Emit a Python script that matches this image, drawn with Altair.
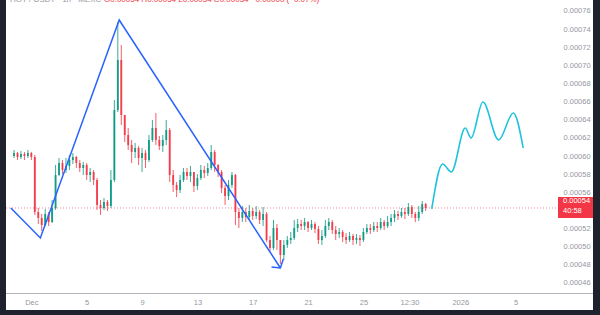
import altair as alt
import pandas as pd
import numpy as np

# ---------------- data (prices in units of 1e-5 USDT) ----------------
first_open = 60.00
close_e5 = [60.34, 59.89, 60.23, 60.00, 60.34, 59.89, 53.83, 53.17, 52.39, 53.61,
            52.72, 54.27, 57.91, 59.23, 58.46, 58.90, 59.56, 59.89, 59.23, 58.68,
            59.01, 57.91, 58.24, 57.36, 54.60, 54.27, 54.93, 54.49, 57.36, 65.08,
            70.59, 64.53, 62.32, 61.22, 60.45, 60.89, 59.78, 60.34, 59.56, 61.77,
            63.09, 61.77, 61.11, 61.77, 62.87, 57.91, 56.81, 56.25, 57.36, 58.24,
            57.80, 58.24, 56.70, 57.58, 58.46, 58.13, 58.68, 60.45, 59.01, 58.24,
            56.48, 55.59, 56.81, 57.91, 53.83, 53.17, 53.83, 53.28, 53.94, 53.39,
            53.83, 52.95, 53.61, 50.74, 49.86, 52.06, 50.74, 49.08, 50.19, 50.74,
            50.96, 52.06, 52.50, 52.28, 52.72, 52.06, 52.50, 51.95, 50.74, 51.18,
            52.28, 52.72, 51.84, 51.40, 51.62, 51.07, 50.74, 51.18, 50.74, 50.96,
            50.74, 51.62, 52.06, 51.84, 52.28, 52.06, 52.72, 52.28, 52.72, 53.17,
            53.61, 53.39, 53.83, 53.61, 54.38, 53.61, 53.17, 53.83, 54.71, 54.27]
high_e5 = [60.67, 60.45, 60.56, 60.45, 60.67, 60.45, 60.12, 54.27, 53.61, 54.16,
           53.83, 55.15, 59.01, 59.78, 59.56, 59.78, 60.12, 60.34, 60.00, 59.56,
           59.34, 59.23, 58.68, 58.46, 57.58, 55.15, 55.37, 55.15, 58.46, 66.18,
           74.79, 72.25, 63.98, 63.09, 61.77, 61.44, 61.11, 60.89, 60.67, 62.32,
           63.98, 64.75, 62.21, 62.32, 63.98, 63.09, 58.46, 57.14, 57.91, 58.68,
           58.68, 58.90, 58.24, 58.02, 59.01, 58.90, 59.23, 61.22, 60.67, 59.12,
           58.46, 56.81, 57.36, 58.24, 58.02, 54.27, 54.49, 54.27, 54.60, 54.27,
           54.49, 54.05, 54.38, 53.83, 51.18, 52.95, 52.50, 50.74, 50.74, 51.18,
           51.62, 52.95, 53.06, 52.95, 53.17, 52.83, 52.95, 52.72, 52.28, 51.84,
           52.95, 53.17, 52.95, 52.28, 52.06, 51.84, 51.51, 51.62, 51.40, 51.40,
           51.29, 52.06, 52.50, 52.50, 52.72, 52.72, 53.17, 52.95, 53.39, 53.61,
           54.05, 53.94, 54.27, 54.27, 54.82, 54.60, 53.83, 54.49, 55.04, 54.82]
low_e5 = [59.78, 59.56, 59.67, 59.56, 59.78, 59.56, 53.50, 52.50, 51.73, 52.28,
          52.28, 52.61, 54.05, 57.80, 58.02, 58.13, 58.46, 59.12, 58.68, 58.24,
          57.91, 57.36, 57.14, 56.81, 54.05, 53.50, 54.05, 53.94, 54.27, 57.14,
          64.86, 63.42, 61.55, 60.67, 59.23, 59.78, 59.01, 58.24, 58.68, 59.34,
          61.55, 61.22, 60.67, 60.45, 61.22, 57.14, 56.03, 55.48, 55.92, 57.14,
          57.36, 57.14, 56.03, 56.25, 57.36, 57.58, 57.80, 58.46, 58.24, 57.69,
          55.92, 54.60, 55.15, 56.48, 52.39, 52.06, 52.72, 52.72, 52.95, 52.95,
          53.06, 52.50, 52.28, 50.52, 49.41, 49.64, 49.64, 48.09, 48.53, 49.86,
          50.30, 50.74, 51.62, 51.84, 51.84, 51.62, 51.84, 51.51, 50.30, 50.19,
          50.96, 51.84, 51.40, 50.74, 50.96, 50.52, 50.30, 50.52, 50.19, 50.30,
          50.08, 50.52, 51.40, 51.40, 51.62, 51.62, 51.84, 51.84, 52.06, 52.28,
          52.72, 52.95, 53.17, 53.06, 53.39, 53.17, 52.72, 52.83, 53.61, 53.94]
candle_start = "2025-11-29 18:00"
candle_freq = "6h"
day_zero = "2025-12-01"

# drawn zig-zag (days since Dec 1, price e-5)
zigzag_day = [-1.48, 0.65, 6.35, 18.0]
zigzag_e5 = [54.27, 50.96, 75.01, 47.65]
arrow_day = [17.36, 18.0, 18.21]
arrow_e5 = [47.76, 47.65, 48.64]

# projected path
forecast_day = [28.94, 29.72, 30.36, 31.36, 31.78, 32.64, 33.77, 34.84, 35.55]
forecast_e5 = [54.16, 59.12, 58.24, 63.09, 61.99, 65.96, 61.77, 64.75, 60.89]

x_tick_days = [0, 4, 8, 12, 16, 20, 24, 27.33, 31, 35]
x_tick_labels = ["Dec", "5", "9", "13", "17", "21", "25", "12:30", "2026", "5"]
# 0.00054 sits under the last-price tag, so it is not listed
y_ticks_e5 = [46, 48, 50, 52, 56, 58, 60, 62, 64, 66, 68, 70, 72, 74, 76]
last_price_label = "0.00054"
countdown_label = "40:58"
header_symbol = "HOT / USDT · 1h · MEXC"
header_ohlc = "O0.00054 H0.00054 L0.00054 C0.00054 −0.00000 (−0.07%)"

# ---------------- build tables ----------------
E = 1e-5
times = pd.date_range(candle_start, periods=len(close_e5), freq=candle_freq)
d = ((times - pd.Timestamp(day_zero)) / pd.Timedelta(days=1)).to_numpy()
o = np.array([first_open] + close_e5[:-1])
c = np.array(close_e5)
h = np.maximum.reduce([np.array(high_e5), o, c])
l = np.minimum.reduce([np.array(low_e5), o, c])
candles = pd.DataFrame({"d": d, "o": o * E, "c": c * E, "h": h * E, "l": l * E})
candles["dir"] = np.where(candles["c"] >= candles["o"], "up", "down")

zig = pd.DataFrame({"d": zigzag_day, "v": np.array(zigzag_e5) * E, "k": range(4)})
arrow = pd.DataFrame({"d": arrow_day, "v": np.array(arrow_e5) * E, "k": range(3)})
fc = pd.DataFrame({"d": forecast_day, "v": np.array(forecast_e5) * E,
                   "k": range(len(forecast_day))})
last = pd.DataFrame({"v": [close_e5[-1] * E], "p": [last_price_label],
                     "t": [countdown_label]})

# ---------------- scales & axes ----------------
W, H = 600, 315
xscale = alt.Scale(domain=[-1.905, 40.74], nice=False, zero=False)
yscale = alt.Scale(domain=[42.465e-5, 77.213e-5], nice=False, zero=False)

expr = "".join(f"abs(datum.value - {v}) < 0.01 ? '{t}' : "
               for v, t in zip(x_tick_days, x_tick_labels)) + "''"
FONT = "Liberation Sans"
xaxis = alt.Axis(values=x_tick_days, labelExpr=expr, orient="bottom", offset=-22,
                 ticks=False, tickSize=0, grid=False, domain=True,
                 domainColor="#b2b5be", domainWidth=1, labelColor="#9598a1",
                 labelFontSize=7.5, labelFont=FONT, labelPadding=5,
                 labelFlush=False, labelOverlap=False, title=None)
yaxis = alt.Axis(values=[round(v * E, 7) for v in y_ticks_e5], format=".5f",
                 orient="right", offset=-37, ticks=False, tickSize=0, grid=False,
                 domain=False, labelColor="#9598a1", labelFontSize=7.5,
                 labelFont=FONT, labelPadding=0, labelAlign="left",
                 labelFlush=False, labelOverlap=False, title=None)


def X(f):
    return alt.X(f, type="quantitative", scale=xscale, axis=xaxis)


def Y(f):
    return alt.Y(f, type="quantitative", scale=yscale, axis=yaxis)


colors = alt.Color("dir:N", scale=alt.Scale(domain=["up", "down"],
                                            range=["#089981", "#f23645"]),
                   legend=None)

RED = "#f23645"

price_line = alt.Chart(last).mark_rule(color=RED, strokeDash=[1, 2], strokeWidth=1,
                                       opacity=0.6).encode(
    y=Y("v"), x=alt.value(0), x2=alt.value(558))

wicks = alt.Chart(candles).mark_rule(strokeWidth=1, opacity=0.8).encode(
    x=X("d"), y=Y("l"), y2="h", color=colors)
bodies = alt.Chart(candles).mark_bar(size=1.9, opacity=0.9).encode(
    x=X("d"), y=Y("o"), y2="c", color=colors)

zig_line = alt.Chart(zig).mark_line(color="#2962ff", strokeWidth=1.5).encode(
    x=X("d"), y=Y("v"), order="k")
arrow_line = alt.Chart(arrow).mark_line(color="#2962ff", strokeWidth=1.5).encode(
    x=X("d"), y=Y("v"), order="k")
fc_line = alt.Chart(fc).mark_line(color="#1fc3dc", strokeWidth=1.6,
                                  interpolate="monotone").encode(
    x=X("d"), y=Y("v"), order="k")

box = alt.Chart(last).mark_rect(color=RED, yOffset=-11, y2Offset=10).encode(
    y=Y("v"), y2="v", x=alt.value(558), x2=alt.value(600))
box_p = alt.Chart(last).mark_text(color="white", fontSize=7.5, font=FONT,
                                  align="left", baseline="middle", dy=-7).encode(
    y=Y("v"), x=alt.value(563), text="p")
box_t = alt.Chart(last).mark_text(color="white", fontSize=7.5, font=FONT,
                                  align="left", baseline="middle", dy=3).encode(
    y=Y("v"), x=alt.value(563), text="t")

hdr = pd.DataFrame({"a": [header_symbol], "b": [header_ohlc]})
hdr1 = alt.Chart(hdr).mark_text(color="#9598a1", fontSize=8, font=FONT, align="left",
                                baseline="alphabetic").encode(
    x=alt.value(10), y=alt.value(2), text="a")
hdr2 = alt.Chart(hdr).mark_text(color=RED, fontSize=8, font=FONT, align="left",
                                baseline="alphabetic").encode(
    x=alt.value(104), y=alt.value(2), text="b")

one = pd.DataFrame({"z": [0]})
FRAME = "#1e222d"
fl = alt.Chart(one).mark_rect(color=FRAME).encode(
    x=alt.value(0), x2=alt.value(6), y=alt.value(0), y2=alt.value(H))
fr = alt.Chart(one).mark_rect(color=FRAME).encode(
    x=alt.value(593), x2=alt.value(W), y=alt.value(0), y2=alt.value(H))
fb = alt.Chart(one).mark_rect(color=FRAME).encode(
    x=alt.value(0), x2=alt.value(W), y=alt.value(310), y2=alt.value(H))

chart = alt.layer(
    price_line, wicks, bodies, zig_line, arrow_line, fc_line,
    box, box_p, box_t, hdr1, hdr2, fl, fr, fb
).properties(
    width=W, height=H, autosize=alt.AutoSizeParams(type="none"), padding=0,
    background="white"
).configure_view(strokeWidth=0)

chart.save("out.html", embed_options={"renderer": "svg", "actions": False})
